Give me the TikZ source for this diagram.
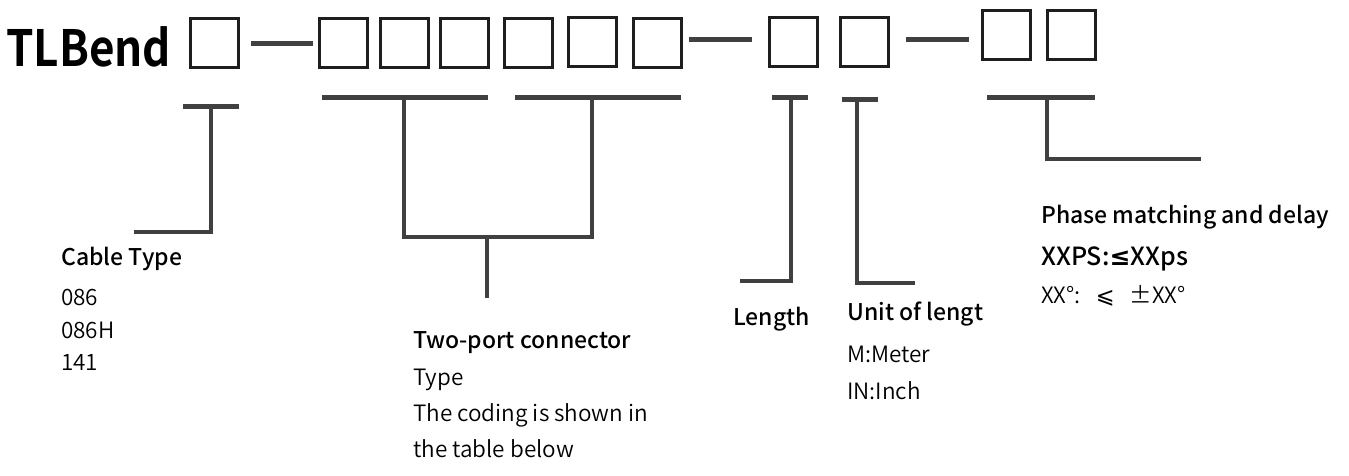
\documentclass[tikz,border=0pt]{standalone}
\usepackage{fontspec}
\setmainfont{Noto Sans CJK SC DemiLight}[BoldFont={Noto Sans CJK SC Medium}]
\newfontfamily\titlefont{Noto Sans CJK SC Bold}
\newfontfamily\symfont{DejaVu Sans}
\definecolor{linegray}{HTML}{404040}
\definecolor{boxblack}{HTML}{1E1E1E}
\begin{document}
\begin{tikzpicture}[x=1pt,y=-1pt,
  codebox/.style={draw=boxblack,line width=3pt,minimum width=48pt,minimum height=49pt,inner sep=0pt},
  dashbar/.style={draw=linegray,line width=5pt},
  underbar/.style={draw=linegray,line width=5pt},
  leader/.style={draw=linegray,line width=4pt},
  head/.style={anchor=base west,inner sep=0pt,font=\fontsize{23}{26}\selectfont\bfseries},
  body/.style={anchor=base west,inner sep=0pt,font=\fontsize{22.5}{26}\selectfont},
]
\useasboundingbox (0,0) rectangle (1349,475);
\node[anchor=base west,inner sep=0pt,font=\fontsize{50}{52}\selectfont\titlefont] (title) at (6,66) {\scalebox{0.88}[1]{TLBend}};
% boxes
\node[codebox] (b1) at (214.5,43) {};
\node[codebox] (b2) at (343.5,43) {};
\node[codebox] (b3) at (404,43) {};
\node[codebox] (b4) at (464,43) {};
\node[codebox] (b5) at (528,43) {};
\node[codebox] (b6) at (592.5,42) {};
\node[codebox] (b7) at (657,43) {};
\node[codebox] (b8) at (793.5,42) {};
\node[codebox] (b9) at (864,42) {};
\node[codebox] (b10) at (1006,35) {};
\node[codebox] (b11) at (1071,35) {};
% dashes
\coordinate (d1a) at (251,43); \coordinate (d1b) at (313,43);
\coordinate (d2a) at (689,39); \coordinate (d2b) at (752,39);
\coordinate (d3a) at (906,39); \coordinate (d3b) at (969,39);
\draw[dashbar] (d1a) -- (d1b);
\draw[dashbar] (d2a) -- (d2b);
\draw[dashbar] (d3a) -- (d3b);
% underlines
\coordinate (u1a) at (183,106); \coordinate (u1b) at (239,106); \coordinate (u1m) at (211,106);
\coordinate (u2a) at (322,97); \coordinate (u2b) at (488,97); \coordinate (u2m) at (404,97);
\coordinate (u3a) at (515,97); \coordinate (u3b) at (681,97); \coordinate (u3m) at (592,97);
\coordinate (u4a) at (772,97); \coordinate (u4b) at (808,97); \coordinate (u4m) at (791,97);
\coordinate (u5a) at (842,99); \coordinate (u5b) at (878,99); \coordinate (u5m) at (857,99);
\coordinate (u6a) at (987,97); \coordinate (u6b) at (1095,97); \coordinate (u6m) at (1047,97);
\foreach \u in {u1,u2,u3,u4,u5,u6} {\draw[underbar] (\u a) -- (\u b);}
% leaders
\coordinate (c1) at (134,232);
\draw[leader] (u1m) |- (c1);
\coordinate (j) at (487,237);
\coordinate (c2) at (487,298);
\draw[leader] (u2m) |- (j) -| (u3m);
\draw[leader] (j) -- (c2);
\coordinate (c4) at (740,281);
\draw[leader] (u4m) |- (c4);
\coordinate (c5) at (915,283);
\draw[leader] (u5m) |- (c5);
\coordinate (c6) at (1201,159);
\draw[leader] (u6m) |- (c6);
% texts
\node[head] (cable) at (61,265) {Cable Type};
\node[body] (t086) at (61,305.5) {086};
\node[body] (t086h) at (61,338) {086H};
\node[body] (t141) at (61,370) {141};
\node[head] (two) at (413,348) {Two-port connector};
\node[body] (type) at (413,385) {Type};
\node[body] (cod1) at (413,421) {The coding is shown in};
\node[body] (cod2) at (413,457) {the table below};
\node[head] (len) at (733,325) {Length};
\node[head] (unit) at (847,320) {Unit of lengt};
\node[body] (um) at (847,362) {M:Meter};
\node[body] (ui) at (847,399) {IN:Inch};
\node[head] (phase) at (1041,223) {Phase matching and delay};
\node[head,font=\fontsize{25}{28}\selectfont\bfseries] (xxps) at (1041,265) {XXPS:{\symfont\bfseries ≤}XXps};
\node[body] (xxdeg) at (1041,303) {XX°:\ \ \ {\symfont ⩽}\ \ \ ±XX°};
\end{tikzpicture}
\end{document}
